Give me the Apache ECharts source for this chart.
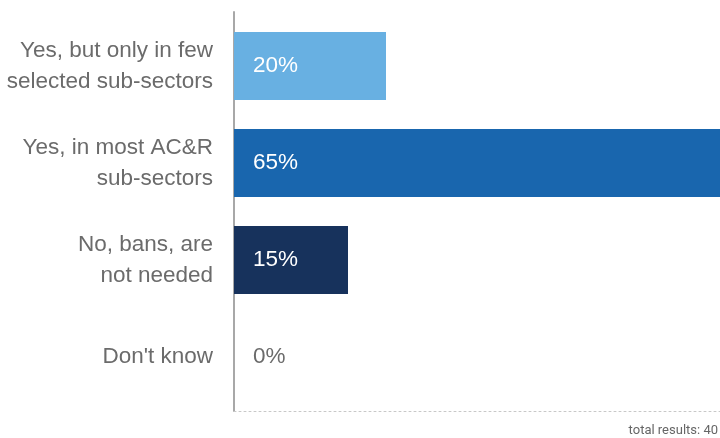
<!DOCTYPE html>
<html>
<head>
<meta charset="utf-8">
<script src="https://cdn.jsdelivr.net/npm/echarts@6/dist/echarts.min.js"></script>
<style>html,body{margin:0;padding:0;background:#fff;}#c{width:720px;height:438px;}</style>
</head>
<body>
<div id="c"></div>
<script>
var categories = ["Yes, but only in few\nselected sub-sectors", "Yes, in most AC&R\nsub-sectors", "No, bans, are\nnot needed", "Don't know"];
var values = [20, 65, 15, 0];
var barColors = ["#68B0E2", "#1966AE", "#17325C", "#17325C"];
var footnote = "total results: 40";

var chart = echarts.init(document.getElementById('c'));
var font = '"Liberation Sans", Arial, sans-serif';
chart.setOption({
  animation: false,
  title: {
    text: footnote, right: 2, bottom: 1, padding: 0,
    textStyle: { fontFamily: 'Roboto, sans-serif', fontSize: 13, fontWeight: 'normal', color: '#666' }
  },
  grid: [
    { left: 234, right: 0, top: 12, bottom: 27, containLabel: false, outerBoundsMode: 'none' },
    { left: 234, right: -8, top: 17.5, bottom: 32.5, containLabel: false, outerBoundsMode: 'none' }
  ],
  xAxis: [
    { gridIndex: 0, type: 'value', min: 0, max: 1, axisLabel: { show: false }, axisTick: { show: false }, splitLine: { show: false },
      axisLine: { show: true, lineStyle: { color: '#c8c8c8', type: [2, 3], width: 1 } } },
    { gridIndex: 1, type: 'value', min: 0, max: 65, show: false }
  ],
  yAxis: [
    { gridIndex: 0, type: 'category', data: [''], axisLabel: { show: false }, axisTick: { show: false },
      axisLine: { show: true, lineStyle: { color: '#a8a8a8', width: 2 } } },
    { gridIndex: 1, type: 'category', inverse: true, data: categories,
      axisLine: { show: false }, axisTick: { show: false },
      axisLabel: { margin: 21, fontFamily: font, fontSize: 22.5, lineHeight: 31, color: '#6b6b6b', align: 'right' } }
  ],
  series: [{
    type: 'bar', xAxisIndex: 1, yAxisIndex: 1, barWidth: 68, clip: true,
    data: values.map(function (v, i) {
      return {
        value: v,
        itemStyle: { color: barColors[i] },
        label: { color: v === 0 ? '#6b6b6b' : '#ffffff' }
      };
    }),
    label: {
      show: true, position: 'insideLeft', distance: 19,
      fontFamily: font, fontSize: 22.5,
      formatter: '{c}%'
    }
  }]
});
</script>
</body>
</html>
